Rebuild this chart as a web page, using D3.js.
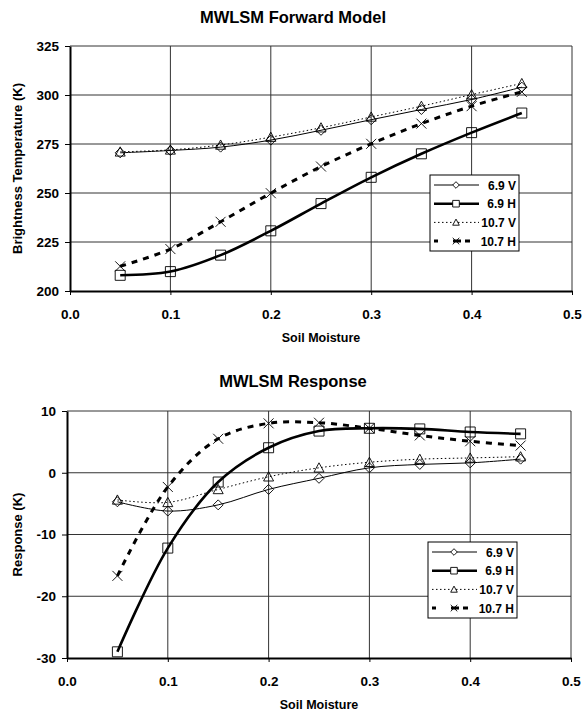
<!DOCTYPE html>
<html>
<head>
<meta charset="utf-8">
<script src="https://cdn.jsdelivr.net/npm/d3@7"></script>
<style>
  body { margin: 0; background: #fff; }
  svg text { font-family: "Liberation Sans", Arial, sans-serif; font-weight: bold; fill: #000; }
</style>
</head>
<body>
<div id="chart"></div>
<script>
// soil moisture sample points
const moisture = [0.05, 0.1, 0.15, 0.2, 0.25, 0.3, 0.35, 0.4, 0.45];

// forward model brightness temperatures (K)
const fwd69V = [270.5, 271.7, 273.4, 277, 282, 287.4, 292.6, 297.7, 304];
const fwd69H = [208, 209.9, 218.3, 230.7, 244.6, 258, 270, 280.8, 290.8];
const fwd107V = [271, 272, 274.5, 278.5, 283.3, 288.8, 294.3, 300.2, 305.9];
const fwd107H = [212.6, 221.4, 235.3, 249.9, 263.5, 275.1, 285.4, 294.3, 301.6];

// response (K)
const resp69V = [-4.7, -6.2, -5.2, -2.7, -0.9, 0.8, 1.35, 1.6, 2.2];
const resp69H = [-29, -12.2, -1.5, 4.05, 6.75, 7.2, 7.1, 6.6, 6.3];
const resp107V = [-4.4, -4.8, -2.7, -0.65, 0.8, 1.7, 2.2, 2.4, 2.6];
const resp107H = [-16.7, -2.3, 5.5, 8.0, 8.1, 7.2, 6.05, 5.1, 4.4];

const seriesNames = ["6.9 V", "6.9 H", "10.7 V", "10.7 H"];
const xTicks = [0, 0.1, 0.2, 0.3, 0.4, 0.5];
const fwdTicks = [200, 225, 250, 275, 300, 325];
const respTicks = [-30, -20, -10, 0, 10];

// line + marker look per series
const styles = [
    {width: 1, dash: null, legDash: null, marker: "diamond"},
    {width: 2.6, dash: null, legDash: null, marker: "square"},
    {width: 1, dash: "1.5,2.5", legDash: "1.5,2.5", marker: "triangle"},
    {width: 3, dash: "6,6", legDash: "4,15,8,4,5,20", marker: "cross"}
];

const svg = d3.select("#chart").append("svg")
    .attr("width", 584)
    .attr("height", 714);

function markerPath(type, r) {
    if (type === "diamond") return `M0,${-r}L${r},0L0,${r}L${-r},0Z`;
    if (type === "square") return `M${-r},${-r}H${r}V${r}H${-r}Z`;
    if (type === "triangle") return `M0,${-r}L${r},${r * 0.85}L${-r},${r * 0.85}Z`;
    return `M${-r},${-r}L${r},${r}M${-r},${r}L${r},${-r}`;
}

function drawPanel(cfg) {
    let g = svg.append("g");
    let x = d3.scaleLinear().domain([0, 0.5]).range([cfg.left, cfg.right]);
    let y = d3.scaleLinear().domain(cfg.yDomain).range([cfg.bottom, cfg.top]);

    // title
    g.append("text")
        .attr("x", 293).attr("y", cfg.titleY)
        .attr("text-anchor", "middle")
        .style("font-size", "16.5px")
        .text(cfg.title);

    // grid
    g.selectAll(".vgrid").data(xTicks.slice(1, -1)).enter().append("line")
        .attr("x1", d => x(d)).attr("x2", d => x(d))
        .attr("y1", cfg.top).attr("y2", cfg.bottom)
        .attr("stroke", "#333").attr("stroke-width", 1);
    g.selectAll(".hgrid").data(cfg.yTicks.slice(1)).enter().append("line")
        .attr("x1", cfg.left).attr("x2", cfg.right)
        .attr("y1", d => y(d)).attr("y2", d => y(d))
        .attr("stroke", "#333").attr("stroke-width", 1);
    // plot frame right edge
    g.append("line")
        .attr("x1", cfg.right).attr("x2", cfg.right)
        .attr("y1", cfg.top).attr("y2", cfg.bottom)
        .attr("stroke", "#333");

    // axes
    let xAxis = g.append("g")
        .attr("transform", "translate(0," + cfg.bottom + ")")
        .call(d3.axisBottom(x).tickValues(xTicks).tickFormat(d3.format(".1f")).tickSizeInner(4).tickSizeOuter(0).tickPadding(14));
    let yAxis = g.append("g")
        .attr("transform", "translate(" + cfg.left + ",0)")
        .call(d3.axisLeft(y).tickValues(cfg.yTicks).tickFormat(d => String(d)).tickSizeInner(5).tickSizeOuter(0).tickPadding(6));
    [xAxis, yAxis].forEach(a => {
        a.select(".domain").attr("stroke", "#000").attr("stroke-width", 2);
        a.selectAll(".tick line").attr("stroke", "#000");
        a.selectAll("text").style("font-size", "13.5px").attr("font-family", null);
    });

    g.append("text")
        .attr("x", (cfg.left + cfg.right) / 2).attr("y", cfg.bottom + 51)
        .attr("text-anchor", "middle")
        .style("font-size", "12.5px")
        .text("Soil Moisture");
    g.append("text")
        .attr("transform", "translate(" + cfg.yTitleX + "," + (cfg.top + cfg.bottom) / 2 + ") rotate(-90)")
        .attr("text-anchor", "middle")
        .style("font-size", "13px")
        .text(cfg.yTitle);

    // series
    let line = d3.line()
        .x(d => x(d[0])).y(d => y(d[1]))
        .curve(d3.curveCatmullRom.alpha(0.5));

    cfg.series.forEach((vals, i) => {
        let st = styles[i];
        let pts = moisture.map((m, j) => [m, vals[j]]);
        g.append("path")
            .datum(pts)
            .attr("d", line)
            .attr("fill", "none")
            .attr("stroke", "#000")
            .attr("stroke-width", st.width)
            .attr("stroke-dasharray", st.dash);
        g.selectAll(".m" + i).data(pts).enter().append("path")
            .attr("transform", d => "translate(" + x(d[0]) + "," + y(d[1]) + ")")
            .attr("d", markerPath(st.marker, 5))
            .attr("fill", "none")
            .attr("stroke", "#000")
            .attr("stroke-width", 0.9);
    });

    // legend
    let lg = g.append("g").attr("transform", "translate(" + cfg.legX + "," + cfg.legY + ")");
    lg.append("rect")
        .attr("width", 89).attr("height", 76)
        .attr("fill", "#fff").attr("stroke", "#000").attr("stroke-width", 1);
    seriesNames.forEach((name, i) => {
        let st = styles[i];
        let ry = 10 + i * 18.7;
        lg.append("line")
            .attr("x1", 4).attr("x2", 49)
            .attr("y1", ry).attr("y2", ry)
            .attr("stroke", "#000")
            .attr("stroke-width", st.width)
            .attr("stroke-dasharray", st.legDash);
        lg.append("path")
            .attr("transform", "translate(26," + ry + ")")
            .attr("d", markerPath(st.marker, 3.3))
            .attr("fill", st.marker === "cross" ? "none" : "#fff")
            .attr("stroke", "#000")
            .attr("stroke-width", 0.9);
        lg.append("text")
            .attr("x", 86).attr("y", ry + 4.5)
            .attr("text-anchor", "end")
            .style("font-size", "12px")
            .text(name);
    });
}

drawPanel({
    title: "MWLSM Forward Model", titleY: 23,
    left: 70, right: 572, top: 46, bottom: 291,
    yDomain: [200, 325], yTicks: fwdTicks,
    yTitle: "Brightness Temperature (K)", yTitleX: 22,
    series: [fwd69V, fwd69H, fwd107V, fwd107H],
    legX: 430, legY: 175
});

drawPanel({
    title: "MWLSM Response", titleY: 387,
    left: 67, right: 571, top: 411, bottom: 658,
    yDomain: [-30, 10], yTicks: respTicks,
    yTitle: "Response (K)", yTitleX: 22,
    series: [resp69V, resp69H, resp107V, resp107H],
    legX: 428, legY: 542
});
</script>
</body>
</html>
